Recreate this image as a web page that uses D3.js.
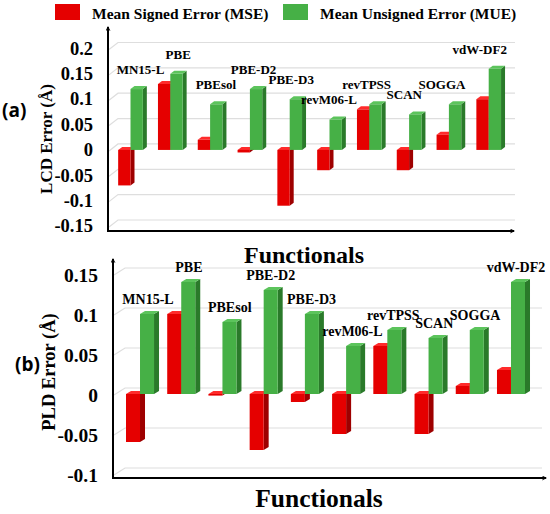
<!DOCTYPE html>
<html>
<head>
<meta charset="utf-8">
<script src="https://cdn.jsdelivr.net/npm/d3@7"></script>
<style>
  body { margin: 0; background: #fff; }
  svg text { font-family: "Liberation Serif", "Times New Roman", serif; font-weight: bold; fill: #000; }
  .panel-tag { font-family: "Open Sans", "Liberation Sans", sans-serif; }
</style>
</head>
<body>
<svg id="chart" width="550" height="514"></svg>
<script>
// values
const functionals = ['MN15-L', 'PBE', 'PBEsol', 'PBE-D2', 'PBE-D3', 'revM06-L', 'revTPSS', 'SCAN', 'SOGGA', 'vdW-DF2'];
const lcdMSE = [-0.07, 0.13, 0.02, -0.005, -0.11, -0.04, 0.08, -0.04, 0.03, 0.10];
const lcdMUE = [0.12, 0.15, 0.09, 0.12, 0.10, 0.06, 0.09, 0.07, 0.09, 0.16];
const pldMSE = [-0.06, 0.10, -0.002, -0.07, -0.01, -0.05, 0.06, -0.05, 0.01, 0.03];
const pldMUE = [0.10, 0.14, 0.09, 0.13, 0.10, 0.06, 0.08, 0.07, 0.08, 0.14];
const lcdTicks = [-0.15, -0.1, -0.05, 0, 0.05, 0.1, 0.15, 0.2];
const pldTicks = [-0.1, -0.05, 0, 0.05, 0.1, 0.15];
const seriesNames = ['Mean Signed Error (MSE)', 'Mean Unsigned Error (MUE)'];

const colors = {
    mse: { front: '#e50000', side: '#9e0000', top: '#ff2b2b' },
    mue: { front: '#46b046', side: '#2a7a2a', top: '#5cc45c' }
};

const svg = d3.select('#chart');

svg.append('defs').append('marker')
    .attr('id', 'arrow')
    .attr('viewBox', '0 -5 10 10')
    .attr('refX', 8).attr('refY', 0)
    .attr('markerWidth', 5).attr('markerHeight', 5)
    .attr('markerUnits', 'userSpaceOnUse')
    .attr('orient', 'auto')
    .append('path')
    .attr('d', 'M0,-5L10,0L0,5L3,0Z')
    .attr('fill', '#000');

class BarPanel3D {
    constructor(_config, _mse, _mue) {
        this.config = _config;
        this.mse = _mse;
        this.mue = _mue;
        this.initVis();
        this.renderVis();
    }

    initVis() {
        let vis = this;
        let c = vis.config;

        vis.g = svg.append('g');

        vis.yScale = d3.scaleLinear()
            .domain(d3.extent(c.ticks))
            .range(c.yRange);

        vis.xScale = d3.scaleBand()
            .domain(functionals)
            .range(c.xRange);

        vis.barW = vis.xScale.bandwidth() * c.barFrac;

        // label positions drift slightly against the bars in the original
        vis.labelScale = d3.scalePoint()
            .domain(functionals)
            .range([vis.center(functionals[0]) + c.labelShift[0],
                    vis.center(functionals[functionals.length - 1]) + c.labelShift[1]]);
    }

    center(d) {
        return this.xScale(d) + this.xScale.bandwidth() / 2;
    }

    renderVis() {
        let vis = this;
        let c = vis.config;
        let y = vis.yScale;
        let floorY = y(c.ticks[0]) + c.floorGap;

        // back wall gridlines with a short slant off the axis
        vis.g.append('g').selectAll('path.grid')
            .data(c.ticks)
            .join('path')
            .attr('class', 'grid')
            .attr('d', d => `M${c.axisX + 1},${y(d) + 1}L${c.axisX + c.grid.dx},${y(d) - c.grid.dy}L${c.wallRight},${y(d) - c.grid.dy}`)
            .attr('fill', 'none')
            .attr('stroke', '#dedede')
            .attr('stroke-width', 1.2);

        // tick labels
        vis.g.append('g').selectAll('text.tick')
            .data(c.ticks)
            .join('text')
            .attr('class', 'tick')
            .attr('x', c.axisX - c.tickGap)
            .attr('y', d => y(d) + c.tickDy)
            .attr('text-anchor', 'end')
            .attr('dominant-baseline', 'middle')
            .style('font-size', c.tickSize + 'px')
            .text(d => String(d));

        // bars
        let bars = [];
        functionals.forEach((f, i) => {
            bars.push({ key: f, v: vis.mse[i], x: vis.center(f) - vis.barW, col: colors.mse });
            bars.push({ key: f, v: vis.mue[i], x: vis.center(f), col: colors.mue });
        });

        let w = vis.barW, dx = c.depth.dx, dy = c.depth.dy;
        let barG = vis.g.append('g').selectAll('g.bar')
            .data(bars)
            .join('g')
            .attr('class', 'bar');

        barG.append('path')
            .attr('fill', d => d.col.side)
            .attr('d', d => {
                let t = Math.min(y(0), y(d.v)), b = Math.max(y(0), y(d.v));
                return `M${d.x + w},${t}L${d.x + w + dx},${t - dy}L${d.x + w + dx},${b - dy}L${d.x + w},${b}Z`;
            });
        barG.append('path')
            .attr('fill', d => d.col.top)
            .attr('d', d => {
                let t = Math.min(y(0), y(d.v));
                return `M${d.x},${t}L${d.x + dx},${t - dy}L${d.x + w + dx},${t - dy}L${d.x + w},${t}Z`;
            });
        barG.append('rect')
            .attr('fill', d => d.col.front)
            .attr('x', d => d.x)
            .attr('y', d => Math.min(y(0), y(d.v)))
            .attr('width', w)
            .attr('height', d => Math.max(Math.abs(y(d.v) - y(0)), 0.8));

        // functional names over each pair
        vis.g.append('g').selectAll('text.name')
            .data(functionals)
            .join('text')
            .attr('class', 'name')
            .attr('x', d => vis.labelScale(d))
            .attr('y', (d, i) => y(Math.max(vis.mse[i], vis.mue[i], 0)) - c.labelGap)
            .attr('text-anchor', 'middle')
            .attr('dominant-baseline', 'middle')
            .style('font-size', c.labelSize + 'px')
            .text(d => d);

        // axes with arrows
        vis.g.append('line')
            .attr('x1', c.axisX).attr('y1', floorY)
            .attr('x2', c.axisX).attr('y2', c.axisTop)
            .attr('stroke', '#000').attr('stroke-width', 2)
            .attr('marker-end', 'url(#arrow)');
        vis.g.append('line')
            .attr('x1', c.axisX - 1).attr('y1', floorY)
            .attr('x2', c.axisRight).attr('y2', floorY)
            .attr('stroke', '#000').attr('stroke-width', 2)
            .attr('marker-end', 'url(#arrow)');

        // titles
        vis.g.append('text')
            .attr('transform', `translate(${c.yTitle.x},${c.yTitle.y}) rotate(-90)`)
            .attr('text-anchor', 'middle')
            .attr('dominant-baseline', 'middle')
            .style('font-size', c.yTitle.size + 'px')
            .text(c.yTitle.text);

        vis.g.append('text')
            .attr('x', c.xTitle.x)
            .attr('y', c.xTitle.y)
            .attr('text-anchor', 'middle')
            .style('font-size', c.xTitle.size + 'px')
            .text('Functionals');

        vis.g.append('text')
            .attr('class', 'panel-tag')
            .attr('x', c.tag.x)
            .attr('y', c.tag.y)
            .attr('dominant-baseline', 'middle')
            .style('font-size', '19px')
            .text(c.tag.text);
    }
}

new BarPanel3D({
    ticks: lcdTicks,
    yRange: [226, 48.5],
    xRange: [110.6, 508.6],
    barFrac: 0.31,
    axisX: 108, axisTop: 27, axisRight: 514, wallRight: 515, floorGap: 5,
    depth: { dx: 4, dy: 3 },
    grid: { dx: 10, dy: 6 },
    tickGap: 15, tickDy: 2, tickSize: 18.5,
    labelShift: [10, -9], labelGap: 18, labelSize: 13,
    yTitle: { x: 48, y: 139, size: 17, text: 'LCD Error (Å)' },
    xTitle: { x: 304, y: 263, size: 24 },
    tag: { x: 2, y: 112, text: '(a)' }
}, lcdMSE, lcdMUE);

new BarPanel3D({
    ticks: pldTicks,
    yRange: [474, 274],
    xRange: [119.4, 531.6],
    barFrac: 0.34,
    axisX: 113, axisTop: 259, axisRight: 546, wallRight: 542, floorGap: 4,
    depth: { dx: 5, dy: 3 },
    grid: { dx: 12, dy: 6 },
    tickGap: 15, tickDy: 4, tickSize: 19.5,
    labelShift: [8, 5], labelGap: 13, labelSize: 14,
    yTitle: { x: 51, y: 372, size: 18.5, text: 'PLD Error (Å)' },
    xTitle: { x: 319, y: 507, size: 25.5 },
    tag: { x: 15, y: 366, text: '(b)' }
}, pldMSE, pldMUE);

// legend
const legend = svg.append('g').selectAll('g.legend')
    .data(seriesNames)
    .join('g')
    .attr('class', 'legend')
    .attr('transform', (d, i) => `translate(${[55, 283][i]},4)`);

legend.append('rect')
    .attr('width', 25).attr('height', 16)
    .attr('fill', (d, i) => i === 0 ? colors.mse.front : colors.mue.front);

legend.append('text')
    .attr('x', 37).attr('y', 14.5)
    .style('font-size', '15.5px')
    .text(d => d);
</script>
</body>
</html>
